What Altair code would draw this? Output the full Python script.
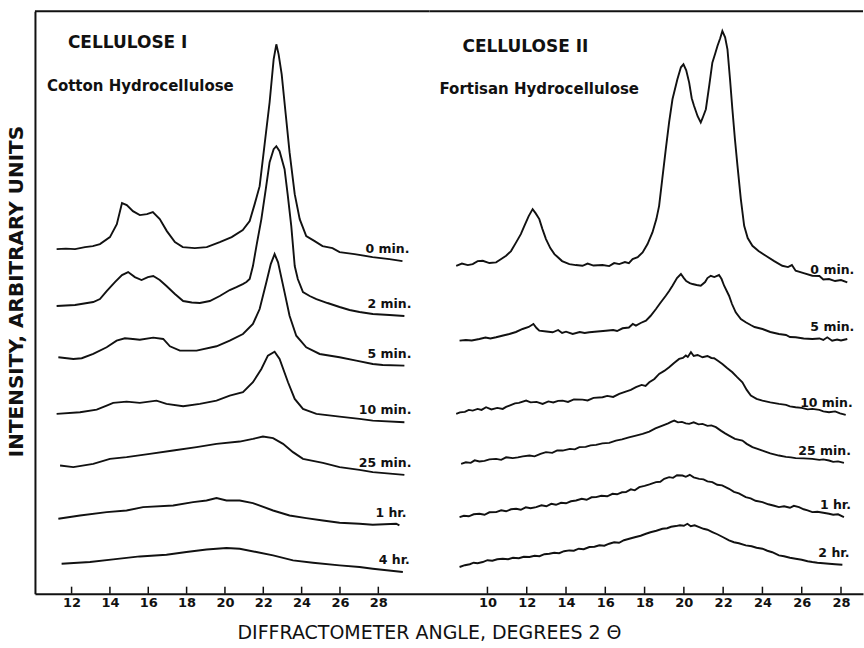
import altair as alt
import pandas as pd

FONT = "DejaVu Sans"
INK = "#111111"

# ---------------- Cellulose I : cotton hydrocellulose (left panel) ----------------
cot_0min_angle = [11.22, 11.7, 12.18, 12.7, 13.11, 13.48, 14.0, 14.36, 14.63, 14.88, 15.2, 15.56, 15.93, 16.24,
                  16.6, 16.97, 17.39, 17.8, 18.43, 19.05, 19.73, 20.35, 20.93, 21.29, 21.55, 21.81, 22.07, 22.33,
                  22.54, 22.68, 22.8, 22.96, 23.17, 23.37, 23.64, 23.9, 24.24, 24.68, 25.09, 25.61, 25.98, 26.76,
                  27.7, 28.58, 29.26]
cot_0min_int = [345, 345.5, 345, 347, 348, 350, 357, 370, 391, 389, 383, 379, 380, 382,
                375, 363, 352, 347, 346, 347, 352, 357, 364, 373, 390, 408, 450, 492,
                535, 550, 540, 520, 480, 442, 400, 375, 358, 353, 348, 346, 342, 340,
                337, 335, 333]

cot_2min_angle = [11.22, 12.18, 13.13, 13.48, 13.83, 14.26, 14.63, 14.95, 15.3, 15.65, 15.98, 16.26, 16.6, 16.95,
                  17.39, 17.82, 18.27, 18.69, 19.21, 19.73, 20.25, 20.6, 20.93, 21.12, 21.29, 21.46, 21.66, 21.9,
                  22.13, 22.33, 22.54, 22.68, 22.85, 23.11, 23.27, 23.46, 23.64, 23.8, 24.07, 24.42, 24.77, 25.35,
                  25.98, 26.5, 27.02, 27.71, 28.58, 29.36]
cot_2min_int = [288, 289, 292, 295, 303, 312, 319, 322, 317, 314, 317, 318, 314, 308,
                300, 293, 291.5, 291, 293, 298, 304, 307, 310, 312, 315, 328, 350, 375,
                405, 432, 445, 448, 443, 425, 400, 368, 328, 315, 302, 298, 295, 291,
                287, 284, 282, 280, 279, 278]

cot_5min_angle = [11.31, 12.09, 12.53, 13.13, 13.83, 14.35, 14.78, 15.2, 15.56, 16.26, 16.78, 17.13, 17.65, 18.52,
                  19.56, 20.25, 20.94, 21.46, 21.81, 22.16, 22.39, 22.59, 22.77, 23.11, 23.37, 23.72, 24.24, 24.94,
                  25.98, 26.85, 27.71, 28.23, 29.36]
cot_5min_int = [236.7, 235, 235.7, 240, 246.7, 253.3, 255.7, 255, 254.3, 256.3, 255, 247.7, 243.3, 243.3,
                247.7, 253.3, 260, 270, 285, 311.7, 330, 340, 331.7, 301.7, 278.3, 258.3, 246.7, 240,
                236.7, 233.3, 230, 229, 228.3]

cot_10min_angle = [11.22, 12.44, 13.31, 13.83, 14.17, 14.87, 15.56, 16.43, 16.95, 17.82, 18.69, 19.56, 20.25, 20.94,
                   21.46, 21.9, 22.24, 22.59, 22.85, 23.29, 23.64, 24.07, 24.77, 25.98, 27.02, 27.71, 29.36]
cot_10min_int = [180, 181.7, 184.3, 188.3, 191, 192.3, 191, 193.3, 190, 187.7, 190, 193.3, 198.3, 201.7,
                 211.7, 225, 238.3, 242.3, 235, 211.7, 195, 185, 180, 177.3, 175, 173.3, 171.7]

cot_25min_angle = [11.4, 12.09, 13.13, 14.0, 14.87, 16.08, 17.3, 18.52, 19.56, 20.77, 21.46, 21.98, 22.51, 23.03,
                   23.55, 24.07, 25.11, 25.98, 27.02, 27.71, 29.36]
cot_25min_int = [128.3, 126.7, 130, 135, 136.7, 140, 143.3, 146.7, 150, 152.3, 155, 157.3, 155.7, 150,
                 141.7, 135, 131, 126.7, 124, 121.7, 119]

cot_1hr_angle = [11.31, 12.44, 13.83, 14.87, 15.73, 17.3, 18.34, 19.04, 19.56, 20.08, 20.77, 21.46, 22.51, 23.37,
                 24.24, 25.11, 25.98, 27.02, 27.71, 28.93, 29.1]
cot_1hr_int = [75, 78.3, 81.7, 83.3, 86.7, 88.3, 91.7, 93.3, 95.7, 93.3, 93.3, 90.7, 83.3, 78.3,
               75.7, 73.3, 71, 70, 69, 70, 68.3]

cot_4hr_angle = [11.48, 12.96, 14.17, 15.56, 16.95, 17.99, 19.04, 20.08, 20.77, 21.64, 22.51, 23.55, 24.59, 25.98,
                 27.02, 27.71, 29.28]
cot_4hr_int = [30, 31.7, 34.3, 37.3, 39, 41.7, 44.3, 45.7, 45, 41.7, 38.3, 33.3, 31, 28.3,
               26.7, 25, 21.7]

# ---------------- Cellulose II : fortisan hydrocellulose (right panel) ----------------
for_0min_angle = [8.41, 8.7, 9.0, 9.25, 9.5, 9.76, 10.1, 10.44, 10.7, 10.95, 11.2, 11.46, 11.7, 11.88, 12.1, 12.3,
                  12.45, 12.64, 12.8, 12.98, 13.2, 13.41, 13.8, 14.17, 14.5, 14.84, 15.1, 15.4, 15.86, 16.2, 16.45,
                  16.71, 17.0, 17.2, 17.39, 17.65, 17.9, 18.15, 18.4, 18.6, 18.74, 18.9, 19.08, 19.25, 19.42, 19.67,
                  19.85, 19.98, 20.12, 20.27, 20.4, 20.52, 20.7, 20.86, 20.95, 21.12, 21.3, 21.45, 21.6, 21.71,
                  21.85, 21.96, 22.1, 22.22, 22.35, 22.47, 22.6, 22.73, 22.9, 23.07, 23.25, 23.49, 23.8, 24.17,
                  24.6, 25.01, 25.3, 25.5, 25.69, 26.1, 26.54, 26.9, 27.1, 27.39, 27.7, 28.0, 28.32]
for_0min_int = [328.3, 330.5, 329, 330, 333, 333.3, 331, 331.7, 335, 338.3, 343, 351.7, 360, 368.3, 378, 385,
                381, 375, 365, 355, 346, 340, 333, 330, 329, 328.3, 330.5, 328.5, 329, 328, 331,
                330, 332, 331, 335, 337, 341.7, 350, 361.7, 375, 388.3, 415, 445, 472, 495, 515,
                527, 530, 524, 511.7, 496, 488.3, 478, 471.7, 476, 485, 510, 531.7, 541, 548.3,
                556, 563.3, 557, 545, 515, 485, 455, 428.3, 395, 368.3, 356, 348.3, 343, 338.3,
                333, 328.3, 327, 329, 323.3, 321, 318.3, 318, 314.5, 315, 313, 314, 311.7]

for_5min_angle = [8.58, 8.9, 9.2, 9.59, 9.9, 10.15, 10.44, 10.8, 11.12, 11.45, 11.79, 12.1, 12.34, 12.5, 12.64,
                  13.0, 13.32, 13.6, 13.8, 14.0, 14.34, 14.7, 14.95, 15.19, 15.6, 16.03, 16.4, 16.6, 16.88, 17.2,
                  17.4, 17.56, 17.8, 18.07, 18.3, 18.58, 18.8, 19.08, 19.25, 19.42, 19.65, 19.85, 20.0, 20.12,
                  20.3, 20.44, 20.65, 20.86, 21.08, 21.2, 21.37, 21.55, 21.79, 21.92, 22.05, 22.3, 22.45, 22.64,
                  22.9, 23.15, 23.4, 23.6, 24.0, 24.4, 24.84, 25.2, 25.4, 25.69, 26.1, 26.54, 26.9, 27.1, 27.3,
                  27.55, 27.8, 28.0, 28.32]
for_5min_int = [253.3, 254, 253.5, 255, 256.5, 255.5, 256.7, 258.5, 260, 262, 265, 267, 270, 266, 263.3,
                262.5, 261.7, 264, 261, 262.3, 260, 262, 261, 261.7, 262.5, 263.3, 264, 263, 265.7, 266.5,
                270, 268.3, 271, 273.3, 278, 285, 291, 298.3, 303, 308.3, 316, 320, 316, 313,
                311, 310, 309, 308.3, 312, 316, 318.3, 317, 319, 315, 308.3, 298.3, 290, 281.7,
                275, 271.7, 269, 267, 265, 262, 260, 259, 257, 256.7, 255.5, 255, 255.5, 254, 256.7,
                253.3, 254.5, 253.5, 255]

for_10min_angle = [8.41, 8.6, 8.85, 9.05, 9.25, 9.5, 9.7, 9.93, 10.2, 10.5, 10.78, 10.95, 11.12, 11.4, 11.6,
                   11.97, 12.2, 12.5, 12.81, 13.1, 13.35, 13.6, 13.83, 14.1, 14.4, 14.84, 15.1, 15.4, 15.86, 16.1,
                   16.4, 16.71, 17.0, 17.3, 17.56, 17.85, 18.05, 18.24, 18.5, 18.74, 19.0, 19.25, 19.5, 19.76,
                   19.95, 20.1, 20.2, 20.36, 20.5, 20.7, 20.95, 21.2, 21.4, 21.54, 21.75, 21.96, 22.2, 22.47, 22.7,
                   22.98, 23.2, 23.41, 23.7, 24.0, 24.4, 24.84, 25.2, 25.4, 25.69, 26.0, 26.3, 26.54, 26.9, 27.1,
                   27.39, 27.7, 27.95, 28.24]
for_10min_int = [180, 181.5, 182, 184, 183.3, 185, 184, 186.7, 184.5, 186, 185, 187, 188.3, 190.5, 191,
                 193.3, 191.5, 192, 190, 192.5, 191.5, 193, 193.3, 192, 194.5, 194.3, 193.5, 196, 196.7, 198,
                 197, 200, 202, 204, 206.7, 209, 208, 211.7, 215, 220, 223, 226.7, 231, 235,
                 236, 238.5, 237, 241.7, 238, 239, 236.7, 238, 236, 235.7, 233, 230, 226, 221.7, 217,
                 211.7, 204, 198.3, 195, 193.3, 191.5, 190, 189, 187.5, 186.7, 186, 184.5, 185, 184, 182.5,
                 181.7, 182.5, 180.5, 179]

for_25min_angle = [8.66, 8.9, 9.15, 9.35, 9.59, 9.85, 10.1, 10.44, 10.7, 10.95, 11.29, 11.55, 11.8, 12.14, 12.4,
                   12.7, 12.98, 13.3, 13.55, 13.83, 14.2, 14.45, 14.68, 15.0, 15.25, 15.53, 15.85, 16.2, 16.54,
                   16.85, 17.2, 17.56, 17.9, 18.24, 18.55, 18.91, 19.2, 19.35, 19.51, 19.7, 19.9, 20.1, 20.27, 20.5,
                   20.75, 20.95, 21.2, 21.4, 21.63, 21.9, 22.1, 22.3, 22.6, 22.98, 23.2, 23.49, 23.75, 24.0, 24.4,
                   24.84, 25.2, 25.45, 25.69, 26.1, 26.54, 26.9, 27.1, 27.39, 27.6, 27.85, 28.15]
for_25min_int = [130, 131.5, 131, 133.5, 132.3, 133, 134.5, 135, 134, 136.5, 135.7, 136.5, 137.5, 138.3, 137.5,
                 140, 141.7, 141, 143.5, 143.3, 145, 144.5, 146.7, 147, 148.5, 149, 150.5, 151, 153.3,
                 154.5, 156.5, 158.3, 160, 162.3, 165.5, 168.3, 170.5, 172, 173.3, 171.5, 172, 170.5, 170, 171.5,
                 169.5, 170, 168, 168.5, 166.7, 163, 160.5, 158.3, 155, 153.3, 150, 146.7, 145, 143.3, 140.5,
                 138.3, 137, 136.5, 135.7, 135.5, 135, 134, 134.5, 133.3, 132, 132.5, 131]

for_1hr_angle = [8.58, 8.8, 9.05, 9.3, 9.59, 9.85, 10.1, 10.44, 10.7, 10.95, 11.2, 11.46, 11.7, 11.95, 12.2, 12.48,
                 12.75, 13.0, 13.25, 13.49, 13.75, 14.0, 14.25, 14.51, 14.8, 15.05, 15.3, 15.53, 15.8, 16.1, 16.37,
                 16.6, 16.85, 17.05, 17.3, 17.5, 17.73, 18.0, 18.25, 18.58, 18.8, 19.0, 19.25, 19.45, 19.65, 19.93,
                 20.1, 20.3, 20.5, 20.78, 21.0, 21.2, 21.45, 21.7, 21.95, 22.3, 22.55, 22.8, 23.15, 23.4, 23.65,
                 24.0, 24.3, 24.6, 24.84, 25.1, 25.4, 25.6, 25.86, 26.1, 26.3, 26.54, 26.8, 27.1, 27.39, 27.6,
                 27.85, 28.15]
for_1hr_int = [76.7, 78, 77.5, 79.5, 80, 79, 81.5, 81.7, 83.5, 82.5, 84.5, 85, 84, 86.5, 85.5, 86.7,
               88.5, 87.5, 90, 89, 91, 90.5, 92.5, 93.3, 95, 94, 96.5, 96.7, 98, 97.5, 100,
               99.5, 101.5, 101.7, 104.5, 103.5, 106.7, 108, 109.5, 111.7, 112, 115, 116.7, 116, 118.5, 118.3,
               117, 119, 116.5, 115, 114.5, 112.5, 111.7, 109, 108.5, 105, 102, 100.5, 96.7, 95.5, 93,
               91.7, 89.5, 88, 86.7, 87.5, 86, 88, 86.7, 84.5, 83.5, 81.7, 82, 81, 80, 79,
               79.5, 76.7]

for_2hr_angle = [8.58, 8.85, 9.1, 9.3, 9.5, 9.76, 10.0, 10.25, 10.5, 10.78, 11.05, 11.3, 11.6, 11.85, 12.14, 12.4,
                 12.65, 12.9, 13.15, 13.4, 13.65, 13.9, 14.17, 14.4, 14.65, 14.9, 15.19, 15.45, 15.7, 15.95, 16.2,
                 16.45, 16.7, 16.95, 17.22, 17.5, 17.8, 18.07, 18.3, 18.6, 18.91, 19.15, 19.35, 19.59, 19.8, 20.0,
                 20.18, 20.35, 20.55, 20.78, 21.0, 21.2, 21.45, 21.7, 22.0, 22.3, 22.55, 22.8, 23.15, 23.45, 23.7,
                 24.0, 24.25, 24.5, 24.84, 25.1, 25.4, 25.69, 26.0, 26.3, 26.54, 26.8, 27.1, 27.39, 27.7, 28.07]
for_2hr_int = [26.7, 28.5, 29.5, 31, 30.5, 31.7, 33.5, 33, 34.5, 35, 34.5, 36, 35.5, 37, 36.7, 38,
               37.5, 39.5, 40, 41, 40.5, 42.5, 43.3, 43, 45, 44.5, 46.7, 47, 48.5, 48, 50,
               51.5, 51, 53.5, 55, 56.5, 58, 60, 61.5, 63, 65, 65.5, 67, 67.7, 68.5, 68,
               70, 67.5, 68.5, 66.7, 65, 64, 61.7, 59.5, 56.5, 53.3, 51.5, 50.5, 48.3, 47.5, 46,
               45, 43, 41.5, 38.3, 37.5, 36, 35, 34, 32.5, 31.7, 31, 30.5, 30, 29.5, 29]

cotton_labels = ["0 min.", "2 min.", "5 min.", "10 min.", "25 min.", "1 hr.", "4 hr."]
fortisan_labels = ["0 min.", "5 min.", "10 min.", "25 min.", "1 hr.", "2 hr."]
cotton_ticks = [12, 14, 16, 18, 20, 22, 24, 26, 28]
fortisan_ticks = [10, 12, 14, 16, 18, 20, 22, 24, 26, 28]

cotton_series = [(cot_0min_angle, cot_0min_int), (cot_2min_angle, cot_2min_int),
                 (cot_5min_angle, cot_5min_int), (cot_10min_angle, cot_10min_int),
                 (cot_25min_angle, cot_25min_int), (cot_1hr_angle, cot_1hr_int),
                 (cot_4hr_angle, cot_4hr_int)]
fortisan_series = [(for_0min_angle, for_0min_int), (for_5min_angle, for_5min_int),
                   (for_10min_angle, for_10min_int), (for_25min_angle, for_25min_int),
                   (for_1hr_angle, for_1hr_int), (for_2hr_angle, for_2hr_int)]


def long_frame(series, labels):
    rows = []
    for lab, (ang, inten) in zip(labels, series):
        for i, (a, v) in enumerate(zip(ang, inten)):
            rows.append({"curve": lab, "i": i, "angle": a, "intensity": v})
    return pd.DataFrame(rows)


H = 583


def panel(df, ticks, domain, width, heading, sub, head_xy, sub_xy, left):
    xaxis = alt.Axis(values=ticks, ticks=False, tickSize=0, labelPadding=3, labelFont=FONT,
                     labelFontSize=13, labelFontWeight="bold", labelColor=INK, labelFlush=False,
                     labelOverlap=False, domain=True, domainColor=INK, domainWidth=2, grid=False,
                     title=None)
    x = alt.X("angle:Q", scale=alt.Scale(domain=domain, nice=False, zero=False), axis=xaxis)
    if left:
        yaxis = alt.Axis(title="INTENSITY, ARBITRARY UNITS", labels=False, ticks=False, domain=True,
                         domainColor=INK, domainWidth=2, grid=False, titleFont=FONT, titleFontSize=20,
                         titleFontWeight="bold", titleColor=INK, titleAngle=270, titleAlign="center",
                         titleBaseline="bottom", titleX=-8, titleY=280)
    else:
        yaxis = None
    y = alt.Y("intensity:Q", scale=alt.Scale(domain=[0, H], nice=False, zero=False), axis=yaxis)

    lines = alt.Chart(df).mark_line(color=INK, strokeWidth=1.9).encode(
        x=x, y=y, detail="curve:N", order="i:Q")

    ends = df.groupby("curve", sort=False).tail(1)
    labels = alt.Chart(ends).mark_text(align="right", baseline="middle", dx=7, dy=-12, font=FONT,
                                       fontSize=12.5, fontWeight="bold", color=INK).encode(
        x="angle:Q", y="intensity:Q", text="curve:N")

    tick_df = pd.DataFrame({"angle": ticks})
    tickmarks = alt.Chart(tick_df).mark_rule(color=INK, strokeWidth=1.5).encode(
        x="angle:Q", y=alt.value(H - 7), y2=alt.value(H))

    top = alt.Chart(tick_df.head(1)).mark_rule(color=INK, strokeWidth=2).encode(
        x=alt.value(0), x2=alt.value(width), y=alt.value(0))

    head = alt.Chart(pd.DataFrame({"t": [heading]})).mark_text(
        align="left", baseline="middle", font=FONT, fontSize=17, fontWeight="bold", color=INK).encode(
        text="t:N", x=alt.value(head_xy[0]), y=alt.value(head_xy[1]))
    subh = alt.Chart(pd.DataFrame({"t": [sub]})).mark_text(
        align="left", baseline="middle", font=FONT, fontSize=15, fontWeight="bold", color=INK).encode(
        text="t:N", x=alt.value(sub_xy[0]), y=alt.value(sub_xy[1]))

    return alt.layer(lines, labels, tickmarks, top, head, subh).properties(width=width, height=H)


left_chart = panel(long_frame(cotton_series, cotton_labels), cotton_ticks, [10.09, 30.67], 395,
                   "CELLULOSE I", "Cotton Hydrocellulose", (33, 32), (12, 75), True)
right_chart = panel(long_frame(fortisan_series, fortisan_labels), fortisan_ticks, [7.05, 29.12], 434,
                    "CELLULOSE II", "Fortisan Hydrocellulose", (33, 36), (10, 78), False)

chart = alt.hconcat(left_chart, right_chart, spacing=0, bounds="flush").properties(
    title=alt.TitleParams(text="DIFFRACTOMETER ANGLE, DEGREES 2 Θ", orient="bottom", anchor="middle",
                          font=FONT, fontSize=19, fontWeight="normal", color=INK, dx=-6, offset=14),
    padding={"left": 6, "top": 10, "right": 0, "bottom": 0},
    background="white",
).configure_view(stroke=None)

chart.save("out.html", embed_options={"renderer": "svg", "actions": False})
